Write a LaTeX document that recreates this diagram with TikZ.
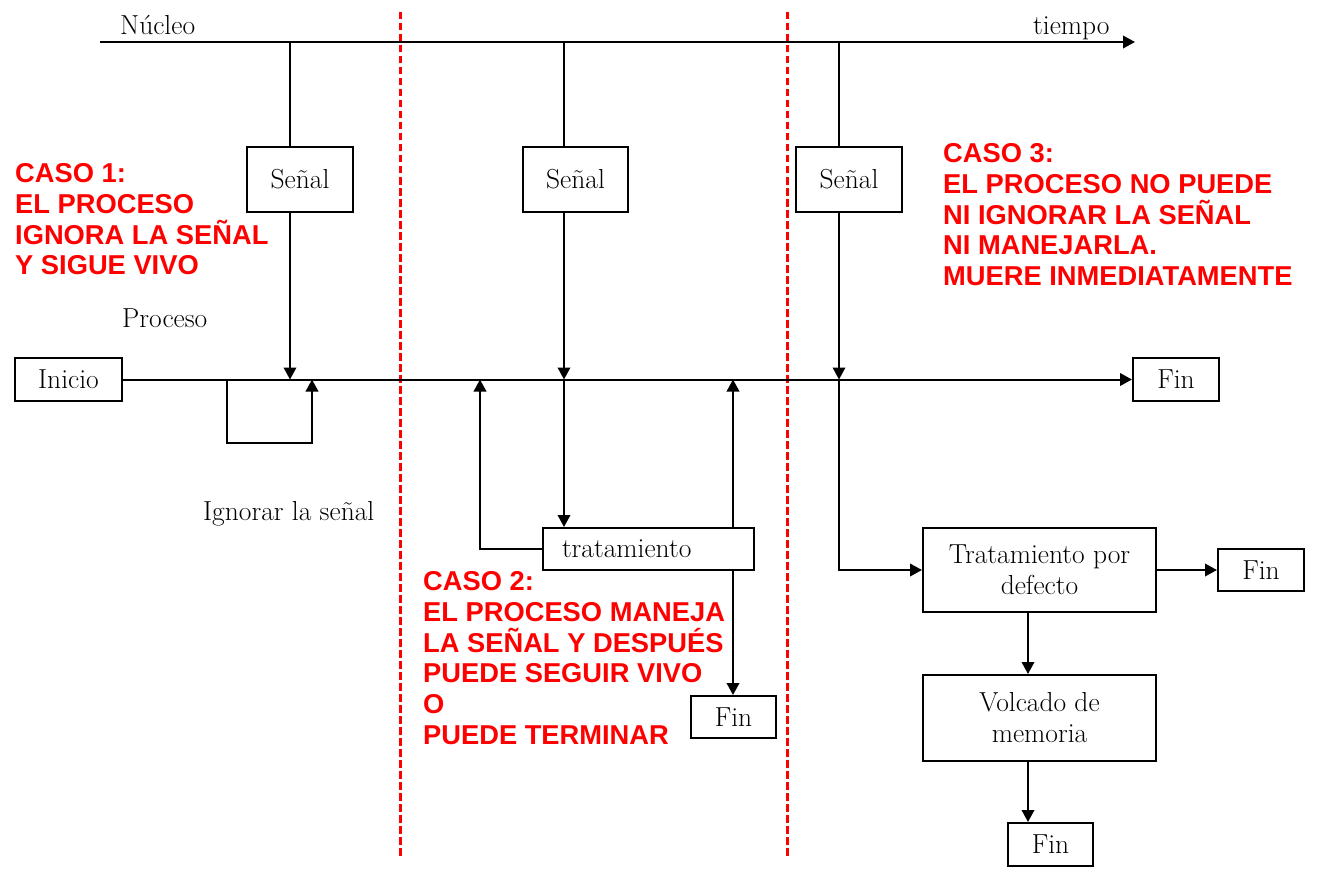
\documentclass[tikz,border=0pt]{standalone}
\usepackage{fontspec}
\setsansfont{Liberation Sans}
\usetikzlibrary{arrows.meta}
\begin{document}
\begin{tikzpicture}[x=1pt,y=-1pt,
  serif/.style={font=\fontsize{27.5}{31}\selectfont},
  box/.style={draw, line width=2pt, inner sep=0pt, serif, align=center},
  conn/.style={line width=2pt},
  arr/.style={conn, -{Triangle[length=12pt,width=12.5pt]}},
  lbl/.style={serif, inner sep=0pt, anchor=base west},
  caso/.style={text=red, font=\sffamily\bfseries\fontsize{27.3}{30.7}\selectfont, align=left, inner sep=0pt, anchor=north west},
  sep/.style={red, line width=3pt, dash pattern=on 7.5pt off 3.5pt}]
\useasboundingbox (0,0) rectangle (1323,880);

% separators
\coordinate (d1a) at (400,12); \coordinate (d1b) at (400,857);
\coordinate (d2a) at (787,12); \coordinate (d2b) at (787,857);
\draw[sep] (d1a) -- (d1b);
\draw[sep] (d2a) -- (d2b);

% time axis (kernel)
\coordinate (ax0) at (100,42);
\coordinate (ax1) at (1135,42);
\draw[arr] (ax0) -- (ax1);
\node[lbl] (nucleo) at (120,35) {Núcleo};
\node[lbl] (tiempo) at (1033,35) {tiempo};

% process line
\node[box, minimum width=107pt, minimum height=43pt] (inicio) at (68.5,379.5) {Inicio};
\node[box, minimum width=86pt, minimum height=43pt] (fin1) at (1176,379.5) {Fin};
\draw[arr] (inicio.east) -- (fin1.west);
\coordinate (pl) at (0,379.5);
\node[lbl] (proceso) at (122,327) {Proceso};

% signal boxes
\node[box, minimum width=106pt, minimum height=65pt] (s1) at (300,179.5) {Señal};
\node[box, minimum width=105pt, minimum height=65pt] (s2) at (575.5,179.5) {Señal};
\node[box, minimum width=106pt, minimum height=65pt] (s3) at (849,179.5) {Señal};

\coordinate (t1) at (290,42);
\coordinate (t2) at (564,42);
\coordinate (t3) at (839,42);
\draw[conn] (t1) -- (t1 |- s1.north);
\draw[conn] (t2) -- (t2 |- s2.north);
\draw[conn] (t3) -- (t3 |- s3.north);
\draw[arr] (t1 |- s1.south) -- (t1 |- pl);
\draw[arr] (t2 |- s2.south) -- (t2 |- pl);
\draw[arr] (t3 |- s3.south) -- (t3 |- pl);

% case 1: ignore loop
\coordinate (i0) at (227,379.5);
\coordinate (i1) at (227,443);
\coordinate (i2) at (312,443);
\coordinate (i3) at (312,379.5);
\draw[arr] (i0) -- (i1) -- (i2) -- (i3);
\node[lbl] (ignorar) at (203,520) {Ignorar la señal};

% case 2: handler
\node[box, minimum height=42pt, text width=173pt, inner xsep=19pt, align=left] (trat) at (648.5,549) {tratamiento};
\node[box, minimum width=85pt, minimum height=42pt] (fin2) at (733.5,717) {Fin};
\draw[arr] (t2 |- pl) -- (t2 |- trat.north);
\coordinate (l2) at (480,379.5);
\draw[arr] (trat.west) -| (l2);
\coordinate (r2) at (733,0);
\draw[arr] (r2 |- trat.north) -- (r2 |- pl);
\draw[arr] (r2 |- trat.south) -- (r2 |- fin2.north);

% case 3: default action
\node[box, minimum width=233pt, minimum height=84pt] (tpd) at (1039.5,570) {Tratamiento por\\defecto};
\node[box, minimum width=86pt, minimum height=42pt] (fin3) at (1261,570) {Fin};
\node[box, minimum width=233pt, minimum height=86pt] (volc) at (1039.5,718) {Volcado de\\memoria};
\node[box, minimum width=85pt, minimum height=43pt] (fin4) at (1050.5,844.5) {Fin};
\draw[arr] (t3 |- pl) |- (tpd.west);
\draw[arr] (tpd.east) -- (fin3.west);
\coordinate (cx) at (1028,0);
\draw[arr] (tpd.south -| cx) -- (volc.north -| cx);
\draw[arr] (volc.south -| cx) -- (fin4.north -| cx);

% case texts
\node[caso] (caso1) at (15,163.5) {CASO 1:\\EL PROCESO\\IGNORA LA SEÑAL\\Y SIGUE VIVO};
\node[caso] (caso2) at (423,571.5) {CASO 2:\\EL PROCESO MANEJA\\LA SEÑAL Y DESPUÉS\\PUEDE SEGUIR VIVO\\O\\PUEDE TERMINAR};
\node[caso] (caso3) at (943,143.5) {CASO 3:\\EL PROCESO NO PUEDE\\NI IGNORAR LA SEÑAL\\NI MANEJARLA.\\MUERE INMEDIATAMENTE};
\end{tikzpicture}
\end{document}
